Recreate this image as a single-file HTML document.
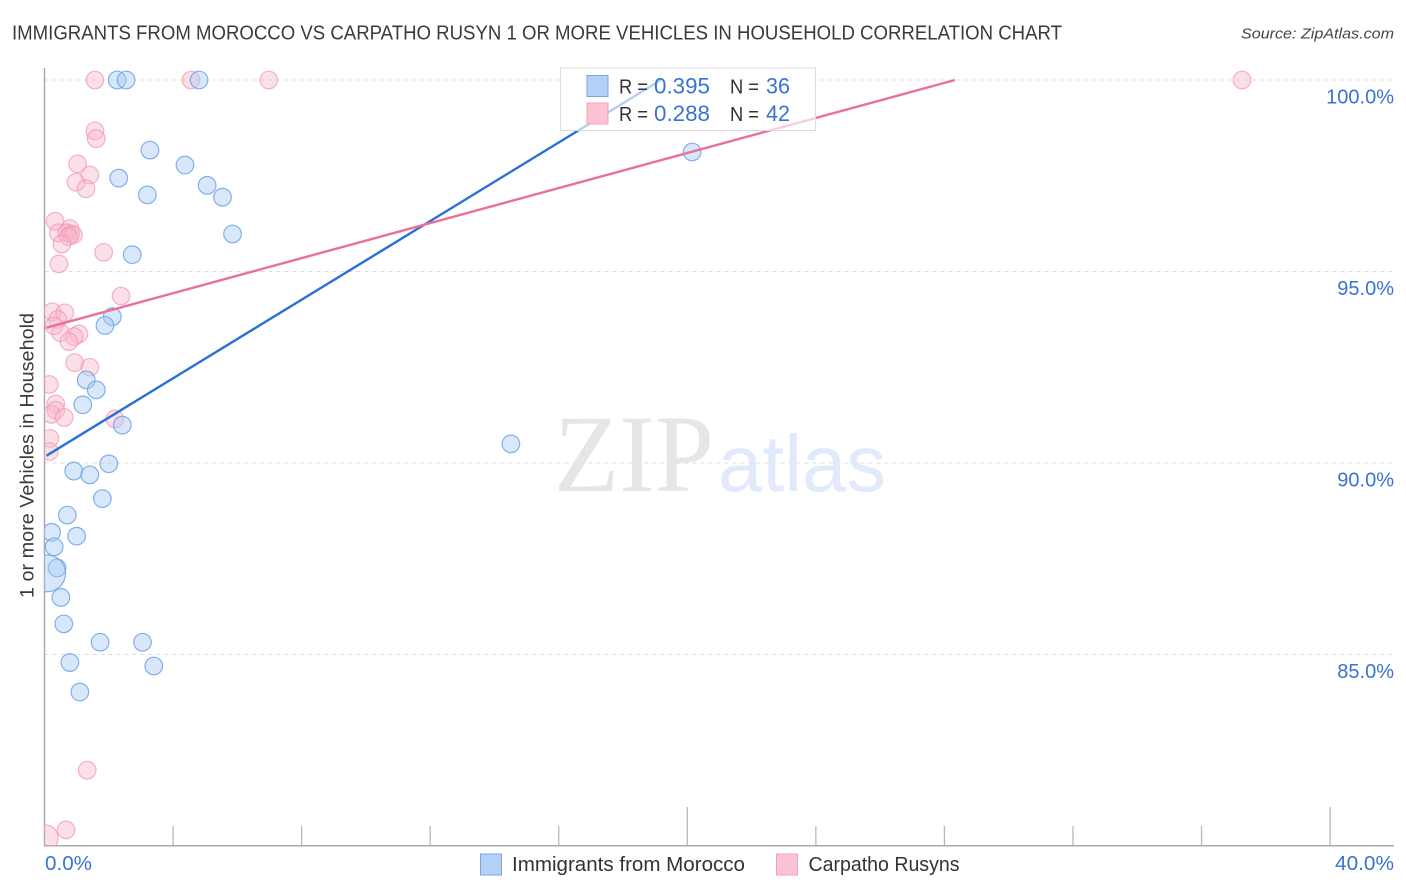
<!DOCTYPE html>
<html lang="en">
<head>
<meta charset="utf-8">
<title>Immigrants from Morocco vs Carpatho Rusyn correlation chart</title>
<style>
html,body{margin:0;padding:0;background:#fff;}
body{width:1406px;height:892px;overflow:hidden;}
svg{display:block;}
text{font-family:"Liberation Sans",sans-serif;}
</style>
</head>
<body>
<svg id="chart" width="1406" height="892" viewBox="0 0 1406 892" xmlns="http://www.w3.org/2000/svg">
  <defs>
    <clipPath id="plot-clip"><rect x="44.5" y="60" width="1350" height="785.5"/></clipPath>
  </defs>
  <text x="12" y="39.5" font-size="20" fill="#3a3a3a" textLength="1050" lengthAdjust="spacingAndGlyphs">IMMIGRANTS FROM MOROCCO VS CARPATHO RUSYN 1 OR MORE VEHICLES IN HOUSEHOLD CORRELATION CHART</text>
  <text x="1394" y="38.5" font-size="15" font-style="italic" fill="#444" text-anchor="end" textLength="153" lengthAdjust="spacingAndGlyphs">Source: ZipAtlas.com</text>
  <text transform="translate(33.5,598) rotate(-90)" font-size="19" fill="#3a3a3a" textLength="285" lengthAdjust="spacingAndGlyphs">1 or more Vehicles in Household</text>

  <g id="grid"></g>

  <g>
    <text x="554" y="491" font-size="110" fill="#e6e6e6" textLength="160" lengthAdjust="spacingAndGlyphs" style="font-family:'Liberation Serif',serif">ZIP</text>
    <text x="718" y="491" font-size="80" fill="#e1eafa" textLength="168" lengthAdjust="spacingAndGlyphs">atlas</text>
  </g>

  <g id="axes"></g>
  <g id="points" clip-path="url(#plot-clip)"></g>
  <g id="lines"></g>
  <g id="tick-labels"></g>

  <g>
    <rect x="560.5" y="68" width="255" height="62.5" fill="#fff" fill-opacity="0.66" stroke="#dcdcdc" stroke-width="1"/>
    <rect x="587" y="75.5" width="21" height="21" fill="#b4d0f7" stroke="#74a5e6" stroke-width="1"/>
    <rect x="587" y="103" width="21" height="21" fill="#fbc3d4" stroke="#f2a0ba" stroke-width="1"/>
    <text x="619" y="93.5" font-size="20" fill="#333" textLength="29" lengthAdjust="spacingAndGlyphs">R =</text>
    <text x="654" y="93.5" font-size="22" fill="#3a72d2" textLength="56" lengthAdjust="spacingAndGlyphs">0.395</text>
    <text x="730" y="93.5" font-size="20" fill="#333" textLength="29" lengthAdjust="spacingAndGlyphs">N =</text>
    <text x="766" y="93.5" font-size="22" fill="#3a72d2" textLength="24" lengthAdjust="spacingAndGlyphs">36</text>
    <text x="619" y="121" font-size="20" fill="#333" textLength="29" lengthAdjust="spacingAndGlyphs">R =</text>
    <text x="654" y="121" font-size="22" fill="#3a72d2" textLength="56" lengthAdjust="spacingAndGlyphs">0.288</text>
    <text x="730" y="121" font-size="20" fill="#333" textLength="29" lengthAdjust="spacingAndGlyphs">N =</text>
    <text x="766" y="121" font-size="22" fill="#3a72d2" textLength="24" lengthAdjust="spacingAndGlyphs">42</text>
  </g>

  <g>
    <rect x="480.5" y="854" width="21" height="21" fill="#b4d0f7" stroke="#74a5e6" stroke-width="1"/>
    <text x="512" y="871" font-size="20" fill="#333" textLength="233" lengthAdjust="spacingAndGlyphs">Immigrants from Morocco</text>
    <rect x="776.5" y="854" width="21" height="21" fill="#fbc3d4" stroke="#f2a0ba" stroke-width="1"/>
    <text x="808.5" y="871" font-size="20" fill="#333" textLength="151" lengthAdjust="spacingAndGlyphs">Carpatho Rusyns</text>
  </g>
</svg>

<script>
const yTickValues = [100, 95, 90, 85];
const yTickLabels = ["100.0%", "95.0%", "90.0%", "85.0%"];
const xTickValues = [4, 8, 12, 16, 20, 24, 28, 32, 36, 40];
const xMajorTicks = [20, 40];
const xEdgeLabels = ["0.0%", "40.0%"];

const moroccoX = [2.26,2.54,4.81,3.28,4.37,2.31,3.20,5.06,5.54,5.85,2.73,20.15,2.11,1.88,1.30,1.61,1.19,2.42,14.51,2.00,0.91,1.41,1.80,0.71,1.00,0.22,0.30,0.39,0.08,0.51,0.60,1.73,3.05,0.79,3.40,1.10];
const moroccoY = [100,100,100,98.17,97.78,97.44,97.00,97.25,96.94,95.98,95.44,98.12,93.82,93.59,92.17,91.91,91.52,90.99,90.50,89.98,89.79,89.69,89.07,88.64,88.09,88.19,87.81,87.26,87.12,86.49,85.80,85.32,85.32,84.79,84.70,84.02];
const moroccoWeight = [1,1,1,1,1,1,1,1,1,1,1,1,1,1,1,1,1,1,1,1,1,1,1,1,1,1,1,1,4.4,1,1,1,1,1,1,1];

const rusynX = [1.57,4.56,6.98,37.26,1.57,1.61,1.03,0.98,1.41,1.29,0.33,0.43,0.79,0.69,0.82,0.90,0.75,0.54,0.45,1.84,2.38,0.24,0.63,0.41,0.30,0.50,1.07,0.92,0.76,0.94,1.41,0.15,0.35,0.35,0.22,0.61,2.19,0.17,0.15,1.33,0.67,0.02];
const rusynY = [100,100,100,100,98.67,98.47,97.81,97.33,97.52,97.16,96.31,96.01,96.12,96.01,95.98,95.96,95.91,95.72,95.20,95.50,94.36,93.95,93.92,93.75,93.58,93.40,93.37,93.30,93.17,92.62,92.50,92.05,91.54,91.38,91.27,91.19,91.15,90.64,90.30,81.98,80.42,80.21];
const rusynWeight = [1,1,1,1,1,1,1,1,1,1,1,1,1,1,1,1,1,1,1,1,1,1,1,1,1,1,1,1,1,1,1,1,1,1,1,1,1,1,1,1,1,2.2];

const moroccoTrendX = [0, 19.18];
const moroccoTrendY = [90.16, 100];
const rusynTrendX = [0, 28.33];
const rusynTrendY = [93.52, 100];

const SVG_NS = "http://www.w3.org/2000/svg";
const xScale = v => 44.5 + v * 32.14;
const yScale = v => 80 + (100 - v) * 38.3;
const radius = w => 8.8 * Math.sqrt(w);

function make(tag, attrs, parent) {
  const el = document.createElementNS(SVG_NS, tag);
  for (const k in attrs) el.setAttribute(k, attrs[k]);
  parent.appendChild(el);
  return el;
}

const grid = document.getElementById("grid");
yTickValues.forEach(v => {
  const el = make("line", {x1: 44.5, x2: 1394, y1: yScale(v), y2: yScale(v), stroke: "#dcdcdc", "stroke-width": 1, "stroke-dasharray": "4 4"}, grid);
  
  
});

const axes = document.getElementById("axes");
const yAxis = make("line", {x1: 44.5, x2: 44.5, y1: 68, y2: 846, stroke: "#aaa", "stroke-width": 1.5}, axes);


const xAxis = make("line", {x1: 44, x2: 1394, y1: 845.7, y2: 845.7, stroke: "#aaa", "stroke-width": 1.5}, axes);


xTickValues.forEach(v => {
  const top = xMajorTicks.includes(v) ? 807 : 826;
  const el = make("line", {x1: xScale(v), x2: xScale(v), y1: top, y2: 845, stroke: "#b8b8b8", "stroke-width": 1.3}, axes);
  
  
});

const labels = document.getElementById("tick-labels");
yTickValues.forEach((v, i) => {
  const el = make("text", {x: 1394, y: yScale(v) + 23.5, "font-size": 20, fill: "#3a72d2", "text-anchor": "end"}, labels);
  
  
  el.textContent = yTickLabels[i];
});
const xLabel0 = make("text", {x: 45, y: 870, "font-size": 20, fill: "#3a72d2", textLength: 47, lengthAdjust: "spacingAndGlyphs"}, labels);


xLabel0.textContent = xEdgeLabels[0];
const xLabel1 = make("text", {x: 1335, y: 870, "font-size": 20, fill: "#3a72d2", textLength: 59, lengthAdjust: "spacingAndGlyphs"}, labels);


xLabel1.textContent = xEdgeLabels[1];

const points = document.getElementById("points");
rusynX.forEach((x, i) => {
  const el = make("circle", {cx: xScale(x), cy: yScale(rusynY[i]), r: radius(rusynWeight[i]), fill: "#f9b4c9", "fill-opacity": 0.42, stroke: "#f09ab6", "stroke-opacity": 0.75, "stroke-width": 1.2}, points);
  
  
});
moroccoX.forEach((x, i) => {
  const el = make("circle", {cx: xScale(x), cy: yScale(moroccoY[i]), r: radius(moroccoWeight[i]), fill: "#a9cbf5", "fill-opacity": 0.45, stroke: "#6ea3e6", "stroke-opacity": 0.85, "stroke-width": 1.2}, points);
  
  
});

const lines = document.getElementById("lines");
const moroccoLine = make("line", {x1: xScale(moroccoTrendX[0]) + 2, x2: xScale(moroccoTrendX[1]), y1: yScale(moroccoTrendY[0]) - 1.2, y2: yScale(moroccoTrendY[1]), stroke: "#2a72d4", "stroke-width": 2.4}, lines);


const rusynLine = make("line", {x1: xScale(rusynTrendX[0]) + 2, x2: xScale(rusynTrendX[1]), y1: yScale(rusynTrendY[0]) - 0.5, y2: yScale(rusynTrendY[1]), stroke: "#e8709b", "stroke-width": 2.4}, lines);


</script>
</body>
</html>
